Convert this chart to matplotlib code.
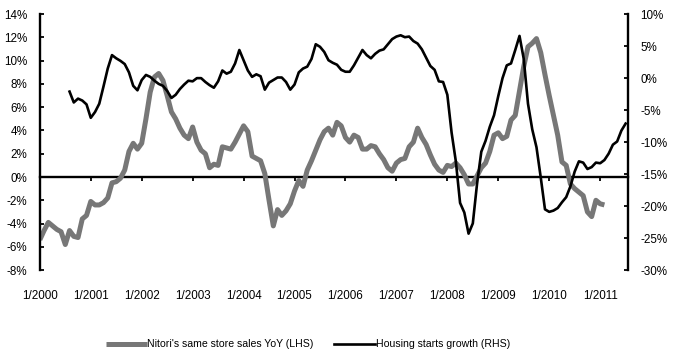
import matplotlib.pyplot as plt
import matplotlib.ticker as mticker
import numpy as np

plt.rcParams["font.family"] = ["Liberation Sans", "DejaVu Sans"]

# month index 0 = 1/2000
nitori_start = 0
nitori_sss = [
    -5.4, -4.6, -3.9, -4.2, -4.5, -4.7, -5.8, -4.6, -5.1, -5.2, -3.6, -3.3,
    -2.1, -2.4, -2.4, -2.2, -1.8, -0.5, -0.4, -0.1, 0.6, 2.2, 2.9, 2.4,
    2.9, 5.0, 7.3, 8.6, 8.9, 8.3, 7.0, 5.6, 5.0, 4.2, 3.6, 3.3,
    4.3, 3.0, 2.3, 2.0, 0.8, 1.1, 1.0, 2.6, 2.5, 2.4, 3.0, 3.7,
    4.4, 3.9, 1.8, 1.6, 1.4, 0.3, -2.0, -4.2, -2.8, -3.3, -2.9, -2.3,
    -1.2, -0.3, -0.8, 0.6, 1.4, 2.3, 3.2, 3.9, 4.2, 3.6, 4.7, 4.4,
    3.4, 3.0, 3.6, 3.4, 2.4, 2.4, 2.7, 2.6, 2.0, 1.5, 0.8, 0.5,
    1.2, 1.5, 1.6, 2.6, 3.0, 4.2, 3.4, 2.8, 1.9, 1.1, 0.6, 0.4,
    1.0, 0.9, 1.2, 0.8, 0.2, -0.6, -0.6, 0.1, 0.8, 1.2, 2.2, 3.6,
    3.8, 3.3, 3.5, 4.9, 5.3, 7.4, 9.5, 11.2, 11.5, 11.9, 10.7, 8.8,
    7.0, 5.3, 3.6, 1.3, 1.0, -0.6, -1.0, -1.3, -1.6, -3.0, -3.4, -2.0,
    -2.3, -2.4,
]

housing_start = 7
housing_starts = [
    -2.1, -3.8, -3.2, -3.5, -4.1,
    -6.2, -5.3, -4.0, -1.3, 1.5, 3.6, 3.1, 2.7, 2.2, 0.9, -1.2, -1.9,
    -0.3, 0.5, 0.2, -0.4, -0.9, -1.2, -2.0, -3.1, -2.6, -1.7, -1.0, -0.4,
    -0.5, 0.0, 0.0, -0.6, -1.1, -1.5, -0.5, 1.2, 0.7, 1.0, 2.3, 4.4,
    2.8, 1.2, 0.2, 0.6, 0.3, -1.8, -0.7, -0.3, 0.1, 0.1, -0.6, -1.8,
    -1.0, 0.9, 1.5, 1.8, 3.0, 5.3, 4.9, 4.1, 2.8, 2.4, 2.1, 1.3,
    1.0, 1.0, 2.0, 3.2, 4.4, 3.6, 3.1, 3.8, 4.3, 4.5, 5.3, 6.1,
    6.5, 6.7, 6.4, 6.5, 5.8, 5.4, 4.5, 3.2, 1.9, 1.3, -0.5, -0.6,
    -2.6, -8.5, -13.0, -19.5, -21.0, -24.3, -22.7, -16.5, -11.5, -9.8, -7.6, -5.8,
    -2.8, 0.0, 2.0, 2.3, 4.4, 6.6, 3.0, -4.0, -8.0, -10.8, -15.5, -20.5,
    -20.9, -20.7, -20.3, -19.4, -18.6, -16.9, -14.6, -13.0, -13.2, -14.2, -13.9, -13.2,
    -13.3, -12.8, -11.8, -10.4, -9.9, -8.2, -7.1,
]

year_labels = ["1/%d" % y for y in range(2000, 2012)]

fig = plt.figure(figsize=(6.75, 3.54), dpi=100)
ax = fig.add_axes([0.059, 0.237, 0.871, 0.723])
ax2 = ax.twinx()

x1 = np.arange(len(nitori_sss)) + nitori_start
x2 = np.arange(len(housing_starts)) + housing_start
l1, = ax.plot(x1, nitori_sss, color="#777777", lw=3.6, solid_capstyle="butt",
              label="Nitori's same store sales YoY (LHS)")
l2, = ax2.plot(x2, housing_starts, color="black", lw=1.9,
               label="Housing starts growth (RHS)")

ax.set_xlim(0, 138.5)
ax.set_ylim(-8, 14)
ax2.set_ylim(-30, 10)
ax.set_yticks(np.arange(-8, 15, 2))
ax2.set_yticks(np.arange(-30, 11, 5))
ax.yaxis.set_major_formatter(mticker.FormatStrFormatter("%d%%"))
ax2.yaxis.set_major_formatter(mticker.FormatStrFormatter("%d%%"))

for a in (ax, ax2):
    a.spines["top"].set_visible(False)
    a.spines["bottom"].set_visible(False)
ax.spines["right"].set_visible(False)
ax.spines["left"].set_linewidth(1.7)
ax2.spines["left"].set_visible(False)
ax2.spines["right"].set_linewidth(1.7)

ax.tick_params(axis="y", direction="in", length=3, width=1.3, pad=9,
               labelsize=8.4)
ax2.tick_params(axis="y", direction="in", length=3, width=1.3, pad=9,
                labelsize=8.4)

# x labels at the bottom, axis line at 0%
ax.set_xticks(np.arange(0, 133, 12))
ax.set_xticklabels(year_labels)
ax.tick_params(axis="x", length=0, pad=14, labelsize=8.4)

zero_axis = ax.secondary_xaxis(8 / 22)
zero_axis.set_xticks(np.arange(0, 133, 12))
zero_axis.set_xticklabels([])
zero_axis.tick_params(axis="x", direction="out", length=3, width=1.3)
zero_axis.spines["bottom"].set_linewidth(1.7)

fig.legend(handles=[l1, l2], loc="center", bbox_to_anchor=(0.456, 0.027),
           ncol=2, frameon=False, fontsize=7.6, handlelength=3.9,
           handletextpad=0.05, columnspacing=1.9)

fig.savefig("out.png", dpi=100)
